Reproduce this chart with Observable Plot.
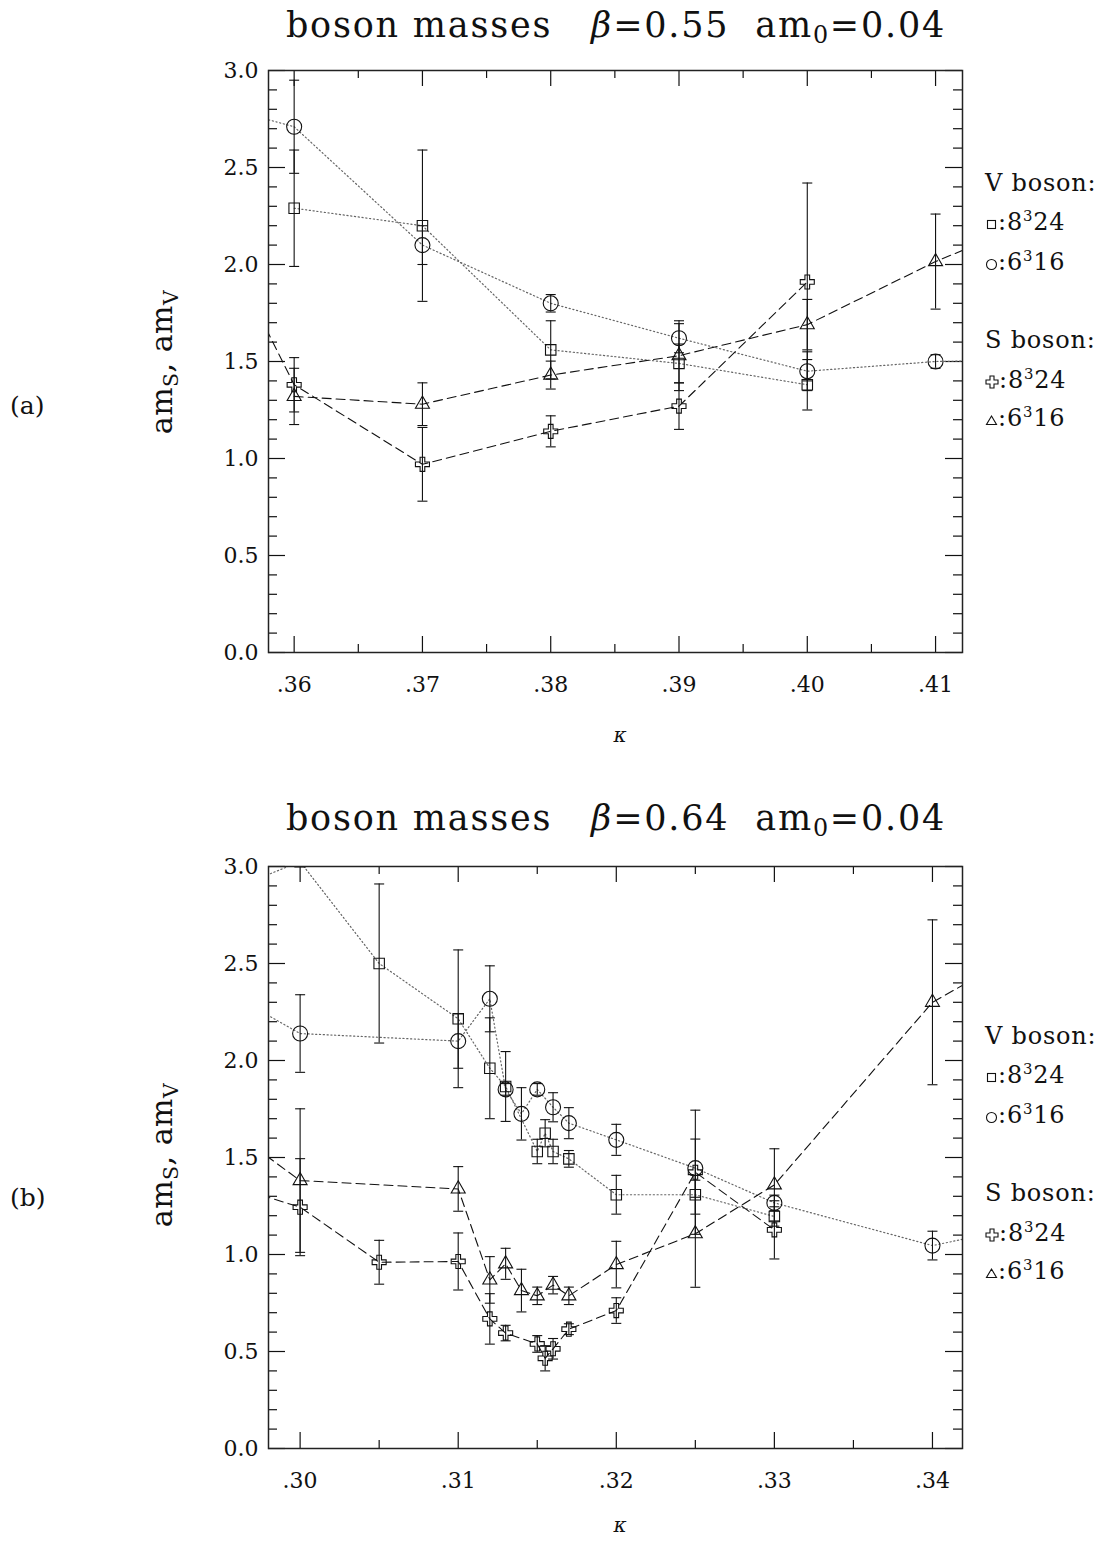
<!DOCTYPE html>
<html><head><meta charset="utf-8">
<script src="https://cdn.jsdelivr.net/npm/d3@7"></script>
<script src="https://cdn.jsdelivr.net/npm/@observablehq/plot@0.6"></script>
<style>
body{margin:0;background:#fff;}
#wrap{position:relative;width:1103px;height:1545px;font-family:"DejaVu Serif",serif;color:#111;overflow:hidden;}
#wrap svg.plot{position:absolute;left:0;}
.lbl{position:absolute;white-space:nowrap;line-height:1;}
.lbl sub{font-size:0.68em;vertical-align:-0.28em;line-height:0;}
.lbl sup{font-size:0.62em;vertical-align:0.6em;line-height:0;}
</style></head><body><div id="wrap"></div>
<script>
// ---------------- data: panel (a)  beta=0.55 ----------------
const xTicksA = [0.36, 0.37, 0.38, 0.39, 0.40, 0.41];
const xMinorA = [0.365, 0.375, 0.385, 0.395, 0.405];
// V boson 8^3 24 (squares)
const kA_V8 = [0.36, 0.37, 0.38, 0.39, 0.40];
const mA_V8 = [2.29, 2.20, 1.56, 1.49, 1.38];
const eA_V8 = [0.30, 0.39, 0.15, 0.10, 0.13];
// V boson 6^3 16 (circles); first/last points lie outside the frame
const kA_V6 = [0.35, 0.36, 0.37, 0.38, 0.39, 0.40, 0.41, 0.42];
const mA_V6 = [2.89, 2.71, 2.10, 1.80, 1.62, 1.45, 1.50, 1.51];
const eA_V6 = [0, 0.24, 0.10, 0.045, 0.075, 0.10, 0.035, 0];
// S boson 8^3 24 (crosses)
const kA_S8 = [0.35, 0.36, 0.37, 0.38, 0.39, 0.40];
const mA_S8 = [2.70, 1.38, 0.97, 1.14, 1.27, 1.91];
const eA_S8 = [0, 0.14, 0.19, 0.08, 0.12, 0.51];
// S boson 6^3 16 (triangles)
const kA_S6 = [0.36, 0.37, 0.38, 0.39, 0.40, 0.41, 0.42];
const mA_S6 = [1.32, 1.28, 1.43, 1.53, 1.69, 2.015, 2.29];
const eA_S6 = [0.145, 0.11, 0.072, 0.18, 0.13, 0.245, 0];

// ---------------- data: panel (b)  beta=0.64 ----------------
const xTicksB = [0.30, 0.31, 0.32, 0.33, 0.34];
const xMinorB = [0.305, 0.315, 0.325, 0.335];
const kB_V8 = [0.295, 0.30, 0.305, 0.31, 0.312, 0.313, 0.315, 0.3155, 0.316, 0.317, 0.32, 0.325, 0.33];
const mB_V8 = [2.86, 3.025, 2.50, 2.215, 1.96, 1.866, 1.531, 1.625, 1.531, 1.493, 1.308, 1.308, 1.196];
const eB_V8 = [0, 0, 0.41, 0.355, 0.26, 0.18, 0.063, 0.07, 0.063, 0.043, 0.10, 0.10, 0.05];
const kB_V6 = [0.295, 0.30, 0.31, 0.312, 0.313, 0.314, 0.315, 0.316, 0.317, 0.32, 0.325, 0.33, 0.34, 0.345];
const mB_V6 = [2.37, 2.139, 2.10, 2.318, 1.851, 1.725, 1.851, 1.759, 1.677, 1.591, 1.445, 1.266, 1.046, 1.13];
const eB_V6 = [0, 0.20, 0.14, 0.17, 0.03, 0.135, 0.03, 0.075, 0.08, 0.08, 0.15, 0.04, 0.074, 0];
const kB_S8 = [0.295, 0.30, 0.305, 0.31, 0.312, 0.313, 0.315, 0.3155, 0.316, 0.317, 0.32, 0.325, 0.33];
const mB_S8 = [1.37, 1.244, 0.96, 0.964, 0.668, 0.595, 0.539, 0.465, 0.514, 0.615, 0.711, 1.424, 1.127];
const eB_S8 = [0, 0.25, 0.113, 0.147, 0.13, 0.04, 0.043, 0.065, 0.053, 0.028, 0.066, 0.32, 0.15];
const kB_S6 = [0.295, 0.30, 0.31, 0.312, 0.313, 0.314, 0.315, 0.316, 0.317, 0.32, 0.325, 0.33, 0.34, 0.345];
const mB_S6 = [1.68, 1.381, 1.338, 0.869, 0.952, 0.814, 0.787, 0.842, 0.787, 0.948, 1.107, 1.359, 2.30, 2.53];
const eB_S6 = [0, 0.37, 0.115, 0.12, 0.08, 0.11, 0.045, 0.045, 0.045, 0.12, 0.276, 0.186, 0.425, 0];

const yMajor = [0, 0.5, 1.0, 1.5, 2.0, 2.5, 3.0];
const yMinor = [0.1,0.2,0.3,0.4,0.6,0.7,0.8,0.9,1.1,1.2,1.3,1.4,1.6,1.7,1.8,1.9,2.1,2.2,2.3,2.4,2.6,2.7,2.8,2.9];

// ---------------- helpers ----------------
const W = 1103, ML = 268, MR = 141;
const FW = W - ML - MR;
const ink = "#111";
const capSymbol = {draw(ctx) { ctx.moveTo(-5, 0); ctx.lineTo(5, 0); }};
function rows(k, m, e) { return k.map((kk, i) => ({k: kk, m: m[i], e: e[i]})); }

function panel({domain, xTicks, xMinor, mt, mb, height, sets}) {
  const FH = height - mt - mb;
  const marks = [];
  // inward ticks on all four sides
  marks.push(Plot.ruleX(xTicks, {x: d => d, insetBottom: FH - 16, stroke: ink, strokeWidth: 1.2}));
  marks.push(Plot.ruleX(xTicks, {x: d => d, insetTop: FH - 16, stroke: ink, strokeWidth: 1.2}));
  marks.push(Plot.ruleX(xMinor, {x: d => d, insetBottom: FH - 8, stroke: ink, strokeWidth: 1.2}));
  marks.push(Plot.ruleX(xMinor, {x: d => d, insetTop: FH - 8, stroke: ink, strokeWidth: 1.2}));
  marks.push(Plot.ruleY(yMajor, {y: d => d, insetRight: FW - 17, stroke: ink, strokeWidth: 1.2}));
  marks.push(Plot.ruleY(yMajor, {y: d => d, insetLeft: FW - 17, stroke: ink, strokeWidth: 1.2}));
  marks.push(Plot.ruleY(yMinor, {y: d => d, insetRight: FW - 9, stroke: ink, strokeWidth: 1.2}));
  marks.push(Plot.ruleY(yMinor, {y: d => d, insetLeft: FW - 9, stroke: ink, strokeWidth: 1.2}));
  // connecting lines
  for (const s of sets) {
    marks.push(Plot.line(s.data, {x: "k", y: "m", clip: true,
      stroke: s.kind === "V" ? "#666" : ink,
      strokeWidth: s.kind === "V" ? 1.2 : 1.1,
      strokeDasharray: s.kind === "V" ? "1.2,2.6" : "9,5"}));
  }
  // error bars
  for (const s of sets) {
    const withErr = s.data.filter(d => d.e > 0);
    marks.push(Plot.ruleX(withErr, {x: "k", y1: d => d.m - d.e, y2: d => d.m + d.e, stroke: ink, strokeWidth: 1.1, clip: true}));
    marks.push(Plot.dot(withErr, {x: "k", y: d => d.m + d.e, symbol: capSymbol, r: 3, stroke: ink, fill: "none", strokeWidth: 1.1, clip: true}));
    marks.push(Plot.dot(withErr, {x: "k", y: d => d.m - d.e, symbol: capSymbol, r: 3, stroke: ink, fill: "none", strokeWidth: 1.1, clip: true}));
  }
  // markers
  for (const s of sets) {
    marks.push(Plot.dot(s.data, {x: "k", y: "m", symbol: s.symbol, r: s.r, stroke: ink, fill: "none", strokeWidth: 1.1, clip: true}));
  }
  marks.push(Plot.frame({stroke: "#222", strokeWidth: 1.5}));
  // tick labels
  marks.push(Plot.text(xTicks, {x: d => d, frameAnchor: "bottom", dy: 39, text: d => d3.format(".2f")(d).slice(1), fontSize: 22, fill: ink}));
  marks.push(Plot.text(yMajor, {y: d => d, frameAnchor: "left", dx: -10, textAnchor: "end", text: d => d.toFixed(1), fontSize: 22, fill: ink}));
  return Plot.plot({
    width: W, height, marginLeft: ML, marginRight: MR, marginTop: mt, marginBottom: mb,
    x: {domain, axis: null}, y: {domain: [0, 3], axis: null},
    style: {fontFamily: "'DejaVu Serif', serif", background: "transparent", overflow: "visible"},
    marks
  });
}

const wrap = document.getElementById("wrap");
function addText(html, x, y, {size = 24, anchor = "start", rotate = 0, spacing = 0} = {}) {
  const d = document.createElement("div");
  d.className = "lbl";
  d.innerHTML = html;
  d.style.left = x + "px"; d.style.top = y + "px"; d.style.fontSize = size + "px";
  if (spacing) d.style.letterSpacing = spacing + "px";
  const tx = anchor === "middle" ? "-50%" : anchor === "end" ? "-100%" : "0";
  d.style.transform = `translate(${tx},-50%)` + (rotate ? ` rotate(${rotate}deg)` : "");
  wrap.appendChild(d);
}
const sym = {
  sq: '<svg width="13" height="13" viewBox="-6.5 -6.5 13 13" style="vertical-align:-1px"><rect x="-4" y="-4" width="8" height="8" fill="none" stroke="#111" stroke-width="1.1"/></svg>',
  ci: '<svg width="13" height="13" viewBox="-6.5 -6.5 13 13" style="vertical-align:-1px"><circle r="5" fill="none" stroke="#111" stroke-width="1.1"/></svg>',
  cr: '<svg width="14" height="14" viewBox="-7 -7 14 14" style="vertical-align:-1px"><path d="M-2,-6H2V-2H6V2H2V6H-2V2H-6V-2H-2Z" fill="none" stroke="#111" stroke-width="1.1"/></svg>',
  tr: '<svg width="13" height="13" viewBox="-6.5 -6.5 13 13" style="vertical-align:-1px"><path d="M0,-4.5L5,4L-5,4Z" fill="none" stroke="#111" stroke-width="1.1"/></svg>'
};

function build({top, height, mt, mb, domain, xTicks, xMinor, sets, beta, tag, titleY, legendY0, tagY, ylabY, kY}) {
  const svg = panel({domain, xTicks, xMinor, mt, mb, height, sets});
  svg.classList.add("plot");
  svg.style.top = top + "px";
  wrap.appendChild(svg);
  addText(`boson masses&nbsp;&nbsp;&nbsp;<i>β</i>=${beta}&nbsp;&nbsp;am<sub>0</sub>=0.04`, 616, titleY, {size: 35, anchor: "middle", spacing: 1.8});
  addText(`am<sub>S</sub>, am<sub>V</sub>`, 162, ylabY, {size: 30, anchor: "middle", rotate: -90, spacing: 0.5});
  addText(tag, 10, tagY, {size: 25});
  addText("<i>κ</i>", 620, kY, {size: 20, anchor: "middle"});
  const L = [["V boson:", 0], [sym.sq + ":8<sup>3</sup>24", 39], [sym.ci + ":6<sup>3</sup>16", 79],
             ["S boson:", 157], [sym.cr + ":8<sup>3</sup>24", 197], [sym.tr + ":6<sup>3</sup>16", 235]];
  for (const [t, dy] of L) addText(t, 985, legendY0 + dy, {size: 24, spacing: 0.8});
}

build({
  top: 0, height: 772, mt: 70, mb: 120, domain: [0.358, 0.4121], xTicks: xTicksA, xMinor: xMinorA,
  sets: [
    {kind: "V", symbol: "square", r: 5.9, data: rows(kA_V8, mA_V8, eA_V8)},
    {kind: "V", symbol: "circle", r: 7.5, data: rows(kA_V6, mA_V6, eA_V6)},
    {kind: "S", symbol: "cross", r: 5.9, data: rows(kA_S8, mA_S8, eA_S8)},
    {kind: "S", symbol: "triangle", r: 5.2, data: rows(kA_S6, mA_S6, eA_S6)}
  ],
  beta: "0.55", tag: "(a)", titleY: 25, legendY0: 183, tagY: 405, ylabY: 362, kY: 735
});
build({
  top: 772, height: 773, mt: 94, mb: 97, domain: [0.298, 0.3419], xTicks: xTicksB, xMinor: xMinorB,
  sets: [
    {kind: "V", symbol: "square", r: 5.9, data: rows(kB_V8, mB_V8, eB_V8)},
    {kind: "V", symbol: "circle", r: 7.5, data: rows(kB_V6, mB_V6, eB_V6)},
    {kind: "S", symbol: "cross", r: 5.9, data: rows(kB_S8, mB_S8, eB_S8)},
    {kind: "S", symbol: "triangle", r: 5.2, data: rows(kB_S6, mB_S6, eB_S6)}
  ],
  beta: "0.64", tag: "(b)", titleY: 818, legendY0: 1036, tagY: 1197, ylabY: 1155, kY: 1525
});
</script></body></html>
